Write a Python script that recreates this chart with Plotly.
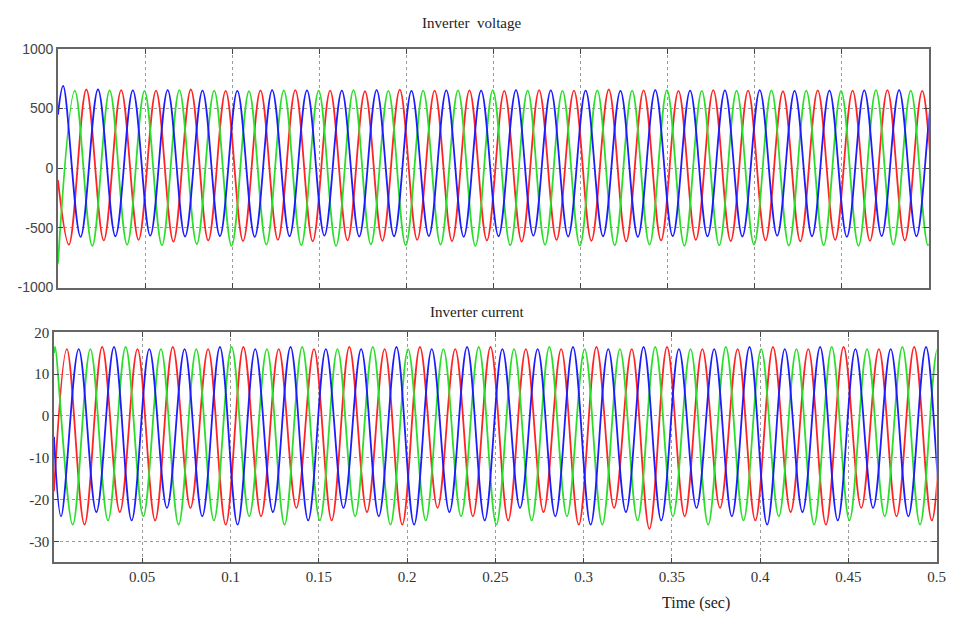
import plotly.graph_objects as go

# ---------------- data ----------------
# start time of every 50 Hz cycle (s)
cycle_start = [0.00, 0.02, 0.04, 0.06, 0.08, 0.10, 0.12, 0.14, 0.16, 0.18, 0.20, 0.22, 0.24,
               0.26, 0.28, 0.30, 0.32, 0.34, 0.36, 0.38, 0.40, 0.42, 0.44, 0.46, 0.48, 0.50]

# Inverter voltage: time of peak / trough inside each cycle (s) and per-cycle extremes (V)
v_red_peak_t, v_red_trough_t = 0.0163, 0.0063
v_green_peak_t, v_green_trough_t = 0.0097, 0.0197
v_blue_peak_t, v_blue_trough_t = 0.0030, 0.0130
v_start = {"red": -100, "green": -800, "blue": 450}

v_red_peak = [660, 655, 650, 660, 648, 652, 655, 650, 645, 658, 650, 652, 648, 655, 650, 660,
              652, 648, 655, 650, 645, 652, 650, 655, 648, 650]
v_red_trough = [-640, -605, -600, -615, -605, -610, -600, -612, -605, -608, -600, -610, -605,
                -615, -600, -608, -612, -605, -600, -610, -605, -612, -600, -608, -605, -610]
v_green_peak = [650, 652, 648, 655, 650, 645, 652, 650, 655, 648, 650, 652, 655, 650, 648, 652,
                650, 655, 648, 650, 652, 650, 648, 655, 650, 652]
v_green_trough = [-650, -640, -645, -635, -650, -640, -645, -650, -638, -645, -640, -650, -645,
                  -640, -648, -645, -640, -650, -645, -640, -648, -645, -650, -640, -645, -648]
v_blue_peak = [690, 660, 652, 655, 650, 648, 655, 652, 650, 655, 648, 652, 650, 655, 652, 650,
               648, 655, 650, 652, 655, 648, 650, 652, 655, 650]
v_blue_trough = [-575, -570, -565, -572, -568, -575, -570, -565, -572, -570, -568, -575, -570,
                 -565, -572, -570, -575, -568, -570, -572, -565, -570, -575, -568, -570, -572]

# Inverter current: time of peak / trough inside each cycle (s) and per-cycle extremes (A)
i_red_peak_t, i_red_trough_t = 0.0073, 0.0173
i_green_peak_t, i_green_trough_t = 0.0006, 0.0106
i_blue_peak_t, i_blue_trough_t = 0.0140, 0.0040
i_start = {"red": -18, "green": 15, "blue": -5}

i_red_peak = [16, 16.5, 16, 16.5, 16, 16.5, 16, 16, 16.5, 16, 16.5, 16, 16.5, 16, 16, 16.5,
              16, 16.5, 16, 16, 16.5, 16, 16.5, 16, 16.5, 16]
i_red_trough = [-26, -23, -25, -22, -26, -24, -22, -25, -23, -26, -22, -24, -25, -23, -26, -22,
                -27, -24, -22, -25, -23, -26, -22, -24, -25, -23]
i_green_peak = [16.5, 16, 16.5, 16, 16, 16.5, 16, 16.5, 16, 16.5, 16, 16, 16.5, 16, 16.5, 16,
                16, 16.5, 16, 16.5, 16, 16, 16.5, 16, 16.5, 16]
i_green_trough = [-26, -25, -24, -26, -25, -24, -26, -25, -24, -26, -25, -24, -26, -25, -24,
                  -26, -25, -24, -26, -25, -24, -26, -25, -24, -26, -25]
i_blue_peak = [16, 16.5, 16, 16, 16.5, 16, 16.5, 16, 16, 16.5, 16, 16.5, 16, 16, 16.5, 16,
               16.5, 16, 16, 16.5, 16, 16.5, 16, 16, 16.5, 16]
i_blue_trough = [-24, -23, -25, -22, -24, -26, -23, -25, -22, -24, -26, -23, -25, -22, -24,
                 -26, -23, -25, -22, -24, -26, -23, -25, -22, -24, -26]

v_ticks = [-1000, -500, 0, 500, 1000]
v_tick_text = ["-1000", "-500", "0", "500", "1000"]
i_ticks = [-30, -20, -10, 0, 10, 20]
i_tick_text = ["-30", "-20", "-10", "0", "10", "20"]
t_ticks = [0.05, 0.1, 0.15, 0.2, 0.25, 0.3, 0.35, 0.4, 0.45, 0.5]
t_tick_text = ["0.05", "0.1", "0.15", "0.2", "0.25", "0.3", "0.35", "0.4", "0.45", "0.5"]


def build(start_val, peak_t, peaks, trough_t, troughs):
    pts = [(0.0, start_val)]
    for c, p, tr in zip(cycle_start, peaks, troughs):
        pts.append((c + peak_t, p))
        pts.append((c + trough_t, tr))
    pts.sort()
    return [p[0] for p in pts], [p[1] for p in pts]


COL = {"red": "#ff2424", "green": "#2ade2a", "blue": "#1c1cff"}

fig = go.Figure()

v_series = {
    "red": build(v_start["red"], v_red_peak_t, v_red_peak, v_red_trough_t, v_red_trough),
    "green": build(v_start["green"], v_green_peak_t, v_green_peak, v_green_trough_t, v_green_trough),
    "blue": build(v_start["blue"], v_blue_peak_t, v_blue_peak, v_blue_trough_t, v_blue_trough),
}
i_series = {
    "red": build(i_start["red"], i_red_peak_t, i_red_peak, i_red_trough_t, i_red_trough),
    "green": build(i_start["green"], i_green_peak_t, i_green_peak, i_green_trough_t, i_green_trough),
    "blue": build(i_start["blue"], i_blue_peak_t, i_blue_peak, i_blue_trough_t, i_blue_trough),
}

for name in ["red", "green", "blue"]:
    x, y = v_series[name]
    fig.add_trace(go.Scatter(x=x, y=y, mode="lines", xaxis="x", yaxis="y",
                             line=dict(color=COL[name], width=1.8, shape="spline", smoothing=1.0),
                             showlegend=False, hoverinfo="skip"))
for name in ["red", "green", "blue"]:
    x, y = i_series[name]
    fig.add_trace(go.Scatter(x=x, y=y, mode="lines", xaxis="x2", yaxis="y2",
                             line=dict(color=COL[name], width=1.8, shape="spline", smoothing=1.0),
                             showlegend=False, hoverinfo="skip"))

W, H = 958, 618
serif = "Liberation Serif, Times New Roman, serif"
sans = "Liberation Sans, Arial, sans-serif"

# pixel layout (figure pixels)
TOP_X0, TOP_X1, TOP_Y0, TOP_Y1 = 58.5, 937.5, 42, 287
BOT_X0, BOT_X1, BOT_Y0, BOT_Y1 = 54.5, 945.5, 333, 569

axis_common = dict(showline=True, linecolor="#666", linewidth=1.5, mirror="ticks",
                   ticks="inside", ticklen=5, tickcolor="#444", showgrid=True,
                   gridcolor="#9a9a9a", griddash="dot", gridwidth=1, zeroline=False)

fig.update_layout(
    width=W, height=H, margin=dict(l=0, r=0, t=0, b=0),
    paper_bgcolor="white", plot_bgcolor="white",
    xaxis=dict(domain=[TOP_X0 / W, TOP_X1 / W], range=[0, 0.5], tickvals=t_ticks,
               showticklabels=False, anchor="y", **axis_common),
    yaxis=dict(domain=[1 - TOP_Y1 / H, 1 - TOP_Y0 / H], range=[-1000, 1000], tickvals=v_ticks,
               ticktext=v_tick_text, anchor="x",
               tickfont=dict(family=sans, size=14, color="#444"), **axis_common),
    xaxis2=dict(domain=[BOT_X0 / W, BOT_X1 / W], range=[0, 0.5], tickvals=t_ticks,
                ticktext=t_tick_text, anchor="y2",
                tickfont=dict(family=serif, size=15, color="#333"), **axis_common),
    yaxis2=dict(domain=[1 - BOT_Y1 / H, 1 - BOT_Y0 / H], range=[-35, 20], tickvals=i_ticks,
                ticktext=i_tick_text, anchor="x2",
                tickfont=dict(family=serif, size=15, color="#333"), **axis_common),
    annotations=[
        dict(text="Inverter  voltage", x=476 / W, y=1 - 15 / H, xref="paper", yref="paper",
             xanchor="center", yanchor="middle", showarrow=False,
             font=dict(family=serif, size=15, color="#222")),
        dict(text="Inverter current", x=482 / W, y=1 - 312 / H, xref="paper", yref="paper",
             xanchor="center", yanchor="middle", showarrow=False,
             font=dict(family=serif, size=15, color="#222")),
        dict(text="Time (sec)", x=703 / W, y=1 - 611 / H, xref="paper", yref="paper",
             xanchor="center", yanchor="middle", showarrow=False,
             font=dict(family=serif, size=16, color="#222")),
    ],
)

fig.write_html(
    "out.html",
    config={"displayModeBar": False},
    post_script="document.body.style.margin='0';document.documentElement.style.overflow='hidden';",
)
